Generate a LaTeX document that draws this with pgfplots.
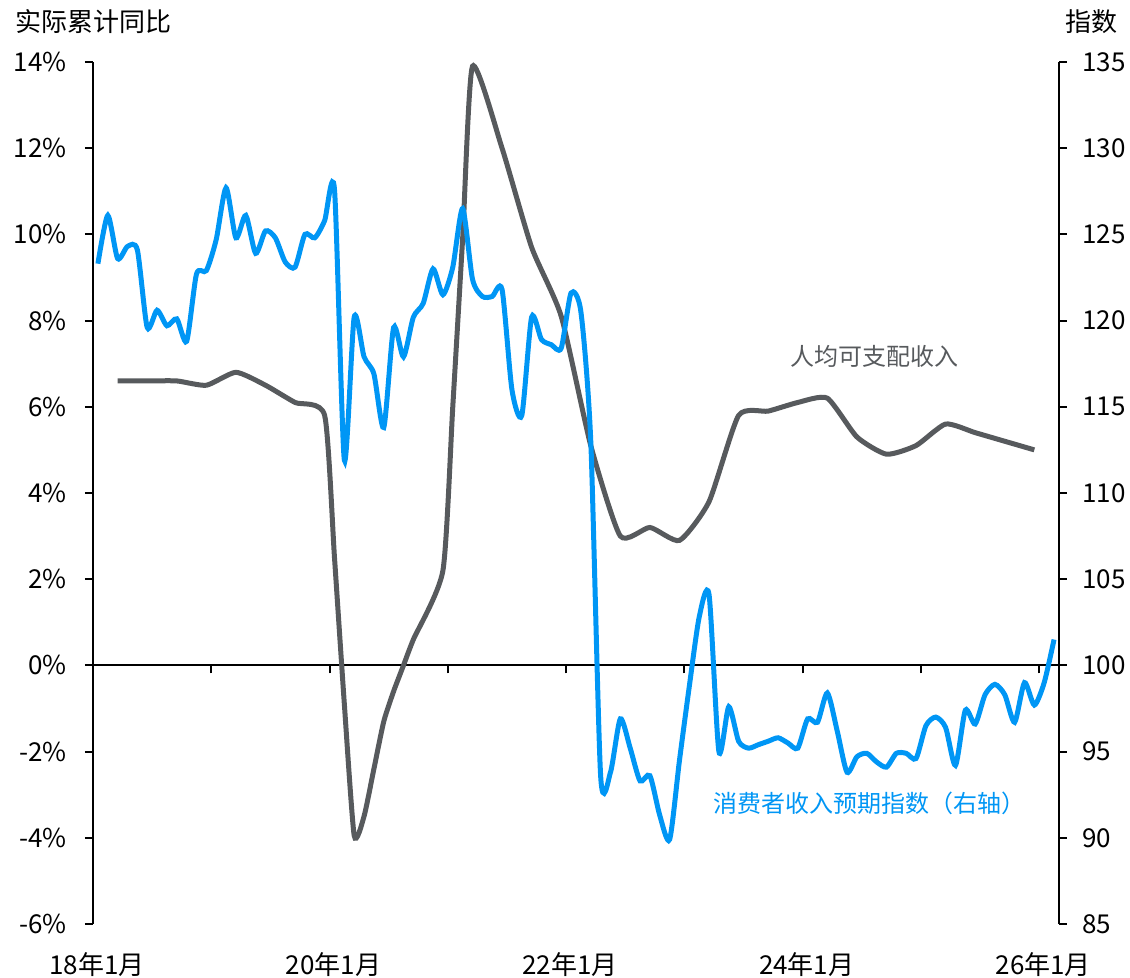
\documentclass[border=0pt]{standalone}
\usepackage{pgfplots}
\pgfplotsset{compat=1.18}
\usepackage{fontspec}
\setmainfont{Noto Sans CJK SC}
\definecolor{cblue}{RGB}{0,150,245}
\definecolor{cgray}{RGB}{87,90,93}
\begin{document}
\begin{tikzpicture}
\useasboundingbox (-46.5pt,-27pt) rectangle (518.5pt,462pt);
\pgfplotsset{every axis/.append style={scale only axis, width=483pt, height=431pt,
  xmin=0, xmax=98, font=\fontsize{13}{15}\selectfont,
  axis line style={-, line width=1pt, black},
  every tick/.style={black, line width=1pt}, major tick length=4pt, tick align=outside}}
\begin{axis}[
  ymin=-6, ymax=14,
  axis y line*=left,
  axis x line*=middle,
  xtick={0,12,...,96}, xticklabels={},
  ytick={-6,-4,...,14},
  yticklabels={-6\%,-4\%,-2\%,0\%,2\%,4\%,6\%,8\%,10\%,12\%,14\%},
  yticklabel style={anchor=east, inner sep=0pt, xshift=-9pt},
]
\addplot[cgray, line width=2.5pt, smooth, tension=0.35] coordinates {
(2.5,6.6)(5.5,6.6)(8.5,6.6)(11.5,6.5)(14.5,6.8)(17.5,6.5)(20.5,6.1)(23.5,5.8)
(24.5,2.5)(25.5,-0.9)(26.5,-3.95)(27.5,-3.5)(28.5,-2.4)(29.5,-1.3)(30.5,-0.6)(31.5,0.0)(32.5,0.6)
(35.5,2.2)(36.5,6.0)(37.5,9.9)(38.5,13.9)(41.5,12.0)(44.5,9.7)(47.5,8.1)
(50.5,5.1)(53.5,3.0)(56.5,3.2)(59.5,2.9)(62.5,3.8)(65.5,5.8)(68.5,5.9)(71.5,6.1)
(74.5,6.2)(77.5,5.3)(80.5,4.9)(83.5,5.1)(86.5,5.6)(89.5,5.4)(92.5,5.2)(95.5,5.0)};
\node[anchor=west, inner sep=0pt, text=cgray, font=\fontsize{12}{14}\selectfont] at (axis cs:70.7,7.16) {人均可支配收入};
\node[anchor=west, inner sep=0pt, text=cblue, font=\fontsize{12}{14}\selectfont] at (axis cs:62.9,-3.19) {消费者收入预期指数（右轴）};
\end{axis}
\begin{axis}[
  ymin=85, ymax=135,
  axis y line*=right,
  axis x line*=bottom,
  x axis line style={draw=none},
  x tick style={draw=none},
  xtick={0,24,48,72,96},
  xticklabels={18年1月,20年1月,22年1月,24年1月,26年1月},
  xticklabel style={anchor=center, inner sep=0pt, yshift=-16.5pt, xshift=2pt},
  ytick={85,90,...,135},
  yticklabels={85,90,95,100,105,110,115,120,125,130,135},
  yticklabel style={anchor=west, inner sep=0pt, xshift=7.5pt},
]
\addplot[cblue, line width=2.5pt, smooth, tension=0.42] coordinates {
(0.5,123.3)(1.5,126.1)(2.5,123.6)(3.5,124.3)(4.5,124.1)(5.5,119.6)(6.5,120.6)(7.5,119.7)
(8.5,120.1)(9.5,118.8)(10.5,122.7)(11.5,122.9)(12.5,124.7)(13.5,127.7)(14.5,124.8)(15.5,126.1)
(16.5,123.9)(17.5,125.2)(18.5,124.8)(19.5,123.4)(20.5,123.1)(21.5,125.0)(22.5,124.8)(23.5,125.8)
(24.5,127.6)(25.5,111.9)(26.5,120.2)(27.5,117.9)(28.5,116.9)(29.5,113.8)(30.5,119.6)(31.5,117.9)
(32.5,120.2)(33.5,121.0)(34.5,123.0)(35.5,121.5)(36.5,123.1)(37.5,126.5)(38.5,122.4)(39.5,121.4)
(40.5,121.4)(41.5,121.8)(42.5,116.0)(43.5,114.5)(44.5,120.2)(45.5,118.9)(46.5,118.6)(47.5,118.4)
(48.5,121.6)(49.5,120.5)(50.5,113.0)(51.5,93.6)(52.5,93.8)(53.5,96.9)(54.5,95.2)(55.5,93.3)
(56.5,93.6)(57.5,91.3)(58.5,89.9)(59.5,94.5)(60.5,98.8)(61.5,102.8)(62.5,104.1)(63.5,95.0)
(64.5,97.6)(65.5,95.6)(66.5,95.2)(67.5,95.4)(68.5,95.6)(69.5,95.8)(70.5,95.5)(71.5,95.2)
(72.5,96.9)(73.5,96.7)(74.5,98.4)(75.5,96.2)(76.5,93.8)(77.5,94.7)(78.5,94.9)(79.5,94.4)
(80.5,94.1)(81.5,94.9)(82.5,94.9)(83.5,94.6)(84.5,96.5)(85.5,97.0)(86.5,96.4)(87.5,94.2)
(88.5,97.4)(89.5,96.6)(90.5,98.3)(91.5,98.9)(92.5,98.3)(93.5,96.7)(94.5,99.0)(95.5,97.7)
(96.5,99.0)(97.5,101.5)};
\end{axis}
\node[anchor=west, inner sep=0pt, font=\fontsize{13}{15}\selectfont] at (-39pt,451pt) {实际累计同比};
\node[anchor=east, inner sep=0pt, font=\fontsize{13}{15}\selectfont] at (512.5pt,451pt) {指数};
\end{tikzpicture}
\end{document}
